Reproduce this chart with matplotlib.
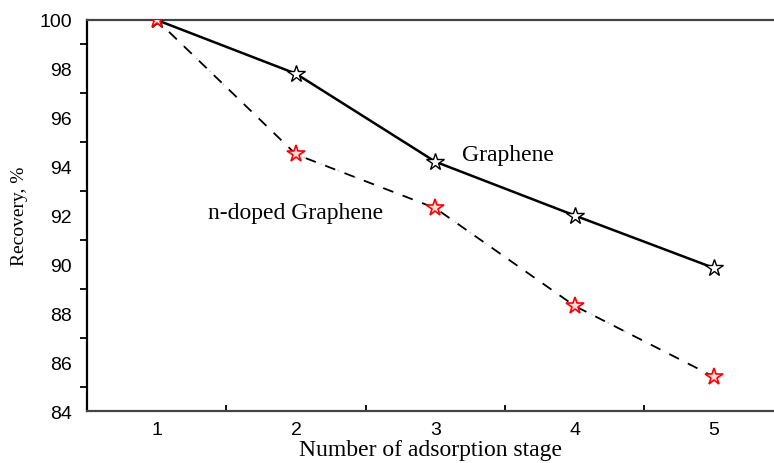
import matplotlib
matplotlib.use('Agg')
import matplotlib.pyplot as plt
import numpy as np

# 数据
stages = [1, 2, 3, 4, 5]
graphene = [100.0, 97.8, 94.2, 92.0, 89.85]
n_doped = [100.0, 94.5, 92.3, 88.3, 85.4]

y_major = [84, 86, 88, 90, 92, 94, 96, 98, 100]
y_minor = [85, 87, 89, 91, 93, 95, 97, 99]
x_minor = [1.5, 2.5, 3.5, 4.5]

fig = plt.figure(figsize=(7.74, 4.64), dpi=100)
ax = fig.add_axes([0.1124, 0.112, 0.8876, 0.8428])

serif = 'Liberation Serif'
sans = 'Liberation Sans'

# Graphene 实线
ax.plot(stages, graphene, color='black', linewidth=1.8, zorder=2)
ax.plot(stages, graphene, linestyle='none', marker='*', markersize=13,
        markerfacecolor='white', markeredgecolor='black', markeredgewidth=1.0, zorder=4)

# n-doped 虚线 (点划线, 点为浅灰)
ax.plot(stages, n_doped, color='#cccccc', linewidth=1.2,
        linestyle=(0, (1, 10)), zorder=2)
ax.plot(stages, n_doped, color='black', linewidth=1.3,
        linestyle=(2, (6, 5.5)), zorder=2)
ax.plot(stages, n_doped, linestyle='none', marker='*', markersize=13,
        markerfacecolor='#ffdddd', markeredgecolor='red', markeredgewidth=1.2, zorder=4)

ax.text(3.19, 94.5, 'Graphene', fontsize=17, family=serif, va='center', ha='left')
ax.text(1.37, 92.13, 'n-doped Graphene', fontsize=17, family=serif, va='center', ha='left')

ax.set_xlim(0.5, 5.43)
ax.set_ylim(84, 100)

ax.set_xticks(stages)
ax.set_xticklabels([str(s) for s in stages], fontsize=14, family=sans)
ax.set_xticks(x_minor, minor=True)
ax.set_yticks(y_major)
ax.set_yticklabels([str(v) for v in y_major], fontsize=14, family=sans)
ax.set_yticks(y_minor, minor=True)

ax.tick_params(axis='x', which='major', length=0, pad=7)
ax.tick_params(axis='x', which='minor', direction='in', length=4, width=1.3)
ax.tick_params(axis='y', which='major', length=0, pad=11)
ax.tick_params(axis='y', which='minor', direction='out', length=5, width=1.3)

ax.set_xlabel('Number of adsorption stage', fontsize=17, family=serif, labelpad=1)
ax.set_ylabel('Recovery, %', fontsize=14, family=serif, labelpad=8)

ax.spines['right'].set_visible(False)
ax.spines['left'].set_color('black')
ax.spines['left'].set_linewidth(1.6)
ax.spines['top'].set_color('#444444')
ax.spines['top'].set_linewidth(1.6)
ax.spines['bottom'].set_color('#444444')
ax.spines['bottom'].set_linewidth(1.6)

fig.savefig('out.png', dpi=100, facecolor='white')
plt.close(fig)
